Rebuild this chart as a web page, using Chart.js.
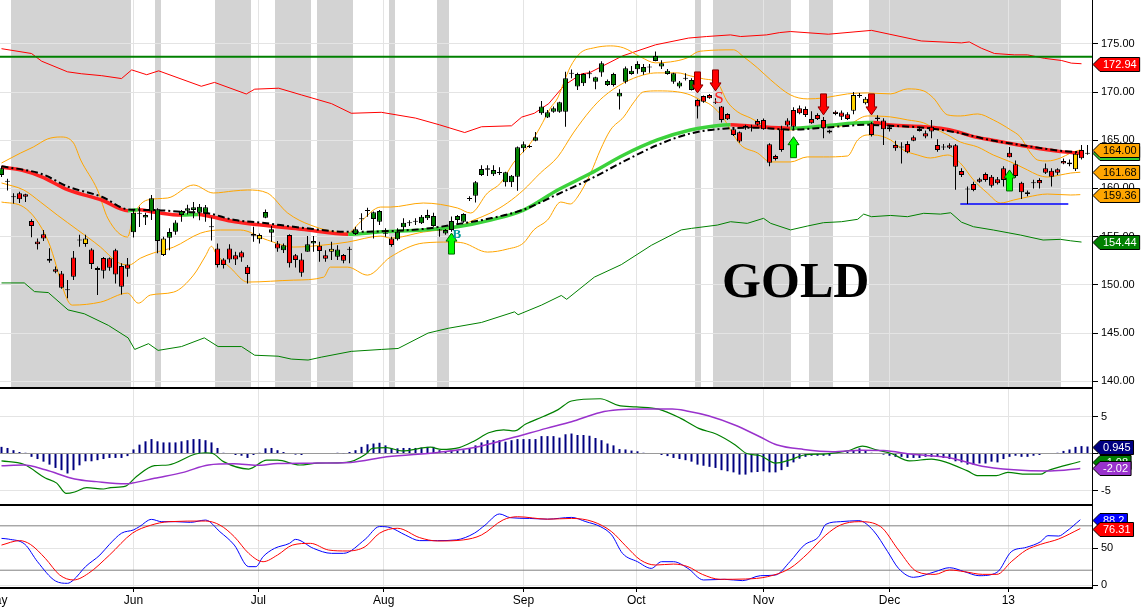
<!DOCTYPE html>
<html>
<head>
<meta charset="utf-8">
<title>GOLD</title>
<script src="https://cdn.jsdelivr.net/npm/chart.js@4.4.1/dist/chart.umd.min.js"></script>
<style>
  body { margin: 0; background: #fff; }
  #wrap { position: relative; width: 1142px; height: 616px; overflow: hidden; background: #fff; }
  #wrap canvas { position: absolute; left: 0; }
</style>
</head>
<body>
<div id="wrap">
  <canvas id="priceChart" width="1142" height="389" style="top:0"></canvas>
  <canvas id="macdChart" width="1142" height="118" style="top:388px"></canvas>
  <canvas id="stochChart" width="1142" height="111" style="top:505px"></canvas>
</div>
<script>
// ---- data ----
const monthBars = [-0.9, 22, 42.8, 63.7, 87, 105.8, 127, 148, 167.8];
const monthLabels = ['May', 'Jun', 'Jul', 'Aug', 'Sep', 'Oct', 'Nov', 'Dec', '13'];
const priceTicks = [140, 145, 150, 155, 160, 165, 170, 175];
const macdTicks = [-5, 0, 5];
const stochTicks = [0, 50];
const stochLevels = [20, 80];

const opens = [161.4,160.7,159.15,159.5,159.4,156.62,154.5,155.24,152.7,151.63,
151.19,149.5,152.85,154.7,154.82,153.68,151.74,152.78,152.75,153.6,
151.95,152.1,155.45,157.42,157.0,157.6,154.54,154.82,154.89,155.5,
157.24,157.7,157.76,157.48,157.42,156.03,153.78,152.64,153.78,153.06,
153.37,151.88,155.1,155.17,156.97,155.41,154.3,153.6,155.17,153.06,
152.64,153.43,154.3,154.05,153.06,153.74,152.92,153.1,153.7,155.27,
156.8,157.7,156.83,156.55,155.34,154.82,154.72,155.97,156.45,156.55,
156.38,156.9,156.1,155.69,155.34,155.69,156.72,156.55,158.9,159.25,
161.4,161.95,161.47,161.64,160.64,160.64,161.22,164.17,164.3,164.96,
167.8,167.35,167.97,167.97,167.97,171.9,170.57,170.92,171.88,171.08,
172.02,170.74,170.74,169.53,171.08,171.88,172.37,172.06,172.58,173.23,
172.64,171.88,171.08,170.57,171.37,170.22,169.18,169.6,169.7,168.94,
168.49,167.73,166.14,165.83,166.5,166.35,167.0,167.1,164.58,163.37,
166.14,167.04,168.15,168.32,168.25,167.2,167.63,167.1,166.0,167.97,
167.87,167.7,169.7,169.63,169.3,166.77,167.35,167.04,166.35,164.51,
164.27,164.62,165.31,166.17,165.72,166.41,164.51,164.27,164.48,164.48,
161.81,159.91,160.46,160.95,161.5,161.22,160.95,162.1,163.71,162.5,
160.6,159.6,160.6,160.88,162.1,161.84,161.98,162.85,162.7,163.6,
164.0,163.6];
const highs = [162.3,161.0,159.5,159.66,159.45,156.8,154.8,155.7,153.8,151.9,
151.45,150.5,153.5,155.2,155.2,153.8,151.9,152.9,152.85,153.74,
152.23,152.78,157.76,158.1,157.48,159.32,157.94,155.0,155.86,156.7,
157.76,158.3,158.6,158.4,158.28,157.0,154.3,152.75,154.2,153.43,
153.54,152.05,156.03,155.34,157.83,156.1,154.54,154.3,155.24,153.2,
153.27,155.06,155.06,154.47,153.6,154.47,154.1,153.2,153.95,156.03,
157.42,158.0,157.6,157.76,155.86,154.99,155.86,156.9,156.7,156.9,
157.24,157.8,157.48,155.8,155.8,157.1,157.24,157.42,159.2,160.78,
162.4,162.4,162.4,162.2,161.74,161.4,164.34,164.86,164.5,165.85,
169.07,168.15,168.5,169.0,172.1,172.33,172.0,171.95,172.2,171.6,
173.2,171.3,172.0,170.3,172.65,172.7,173.2,172.9,172.9,174.2,
173.3,172.4,172.0,171.16,171.96,171.44,169.25,169.65,169.8,169.36,
168.56,167.8,166.3,165.9,166.6,166.6,167.2,167.25,164.7,163.5,
166.5,167.28,168.43,168.6,168.5,168.0,167.8,167.4,166.1,168.1,
168.1,167.9,170.0,169.9,169.5,166.9,167.6,167.28,166.5,164.96,
164.8,164.9,165.5,166.4,166.0,167.1,165.1,164.6,164.7,164.6,
162.1,160.2,160.7,161.1,161.65,161.4,161.2,162.3,164.3,162.9,
160.7,159.8,160.9,161.05,162.6,162.1,162.1,163.1,163.0,163.8,
164.5,164.5];
const lows = [161.2,159.8,158.45,158.5,158.6,154.93,153.68,154.55,152.3,151.2,
149.6,148.6,150.5,153.95,153.95,151.64,148.94,150.67,151.46,150.15,
149.0,150.84,154.9,156.0,156.2,156.72,153.27,153.0,153.6,155.2,
156.55,157.3,156.9,156.7,156.55,154.6,151.8,151.7,152.3,152.05,
152.4,150.15,154.47,154.3,156.9,154.47,153.43,153.3,151.8,151.8,
150.84,153.43,153.43,152.4,152.4,152.57,152.57,152.23,152.23,155.17,
155.7,157.07,154.82,156.2,154.99,153.95,154.6,155.6,156.1,156.2,
156.3,156.72,156.03,155.0,155.2,155.5,156.2,156.45,158.7,158.55,
161.3,161.3,161.3,161.4,160.2,160.15,159.77,163.75,164.2,164.9,
167.64,167.3,167.85,167.85,166.4,171.44,170.22,170.64,171.44,170.3,
171.6,170.64,170.57,168.2,170.9,171.8,171.9,171.8,172.0,173.2,
172.4,171.8,170.85,170.4,171.2,170.15,167.25,168.9,169.3,168.77,
166.85,167.1,165.45,164.75,166.1,165.9,166.5,166.1,162.3,162.9,
163.8,166.41,166.07,167.7,167.4,166.7,167.1,165.2,165.7,167.6,
167.1,167.1,167.7,169.4,168.7,165.4,167.0,164.5,165.9,163.9,
162.6,163.65,164.9,165.9,165.2,165.2,163.8,164.0,164.1,159.86,
161.2,158.4,159.7,160.6,160.7,160.1,160.4,160.2,163.2,161.1,
158.9,159.2,160.0,160.0,161.5,160.2,161.4,162.5,162.3,161.8,
163.0,163.5];
const closes = [162.1,160.75,159.1,158.87,159.15,156.1,154.2,154.82,152.5,151.35,
149.7,149.45,150.84,154.6,154.23,152.16,151.53,151.46,151.77,151.08,
149.8,151.66,157.48,157.37,157.24,158.98,157.84,153.09,155.48,156.48,
157.66,157.95,158.04,158.1,158.04,155.98,152.05,152.05,152.64,152.64,
152.85,151.12,155.27,154.72,157.55,155.76,153.78,154.1,152.23,152.57,
151.26,154.2,154.54,153.5,152.7,153.43,153.68,152.5,153.65,155.76,
156.85,157.65,157.52,157.66,155.3,154.13,155.51,156.45,156.4,156.6,
157.07,157.24,157.14,155.65,155.69,156.62,157.14,157.35,158.95,160.64,
162.02,162.1,161.92,161.6,161.68,161.33,164.27,164.58,164.4,165.3,
168.5,167.91,168.32,168.94,171.44,171.95,171.88,171.88,171.85,171.54,
173.0,171.16,171.88,169.94,172.48,172.2,172.92,172.6,172.55,173.75,
173.0,172.2,171.96,170.98,171.4,171.26,168.49,169.0,169.36,168.9,
167.1,167.18,165.55,164.86,166.3,166.3,166.6,166.14,162.67,163.06,
164.0,166.52,166.41,167.8,167.63,166.77,167.2,166.24,165.8,167.73,
167.45,167.2,168.07,169.6,168.84,165.55,167.2,166.14,166.14,164.17,
164.24,163.75,164.96,165.97,165.38,165.9,163.99,164.24,164.23,162.26,
161.4,159.88,159.84,160.7,160.88,160.28,160.53,160.88,163.23,161.29,
159.6,159.42,160.55,160.53,161.64,161.22,161.64,162.6,162.5,161.98,
163.13,163.7];
// candle colour state: r = red, g = green, y = yellow, k = doji
const impulse = ['gkkrrrrrrr','rkryyrrrrr','rrgkgggygg','gggggkrrrr','rrgyggrgrr',
  'rggrrygrkg','kkggkrggkk','gggkggggkg','gggkgggggg','gggggkggkg','ggggggggkg',
  'ggggkgrrrk','rrrrrkrrrr','rrrrrrrrrr','rrykyrrrrr','krrrrrrkrr','rkrrrrrrrr',
  'rrkrrrrrry','rg'].join('');

// [bar, value] pairs
const redEnvelope = [[0,174.5],[5,174.0],[6.7,173.2],[11,172.1],[13.3,171.9],[16.7,171.7],[20,171.4],[21.7,172.3],[24.2,171.8],[26.2,172.2],[33.3,170.6],[35.5,171.0],[40.8,169.8],[42.2,170.3],[46.2,170.4],[50,169.7],[55,168.8],[58.3,167.8],[63.3,167.9],[69,167.3],[73,166.6],[77.2,165.8],[80,166.4],[85,166.5],[86.7,167.4],[88.8,167.8],[91.2,168.8],[93.8,170.7],[96.7,171.9],[98,172.0],[103.5,173.75],[109,174.9],[114.5,175.6],[117.5,175.76],[121.5,175.93],[123.2,175.76],[127.5,175.93],[129.7,176.17],[131.5,176.28],[137.8,176.0],[145,176.4],[153.3,175.3],[160,175.1],[161.3,175.2],[163.3,174.55],[165.5,174.0],[168.8,173.86],[171,173.86],[173.8,173.5],[176.7,173.27],[178.3,173.0],[180,172.94]];
const greenEnvelope = [[0,150.2],[3.8,150.2],[5.5,149.3],[7.8,149.2],[11.1,147.4],[13.8,147.0],[17.8,145.8],[21.1,144.5],[22.2,143.3],[24.5,143.9],[26.1,143.2],[30,143.6],[33.8,144.5],[36.1,143.6],[40,143.6],[42.2,142.7],[46.1,142.6],[48.3,142.3],[51.1,142.2],[53.3,142.5],[58.3,143.1],[63.3,143.3],[66.1,143.4],[71.1,145.0],[74.5,145.5],[80,146.1],[85.5,147.2],[86.1,146.9],[90,147.9],[93.3,148.9],[94.2,148.5],[98.8,150.8],[103.3,152.1],[108.3,154.1],[113.3,155.7],[115,155.86],[119.3,156.2],[121.5,156.55],[124.3,156.38],[127,156.9],[128.2,156.38],[131.5,155.7],[134.3,156.1],[137,156.45],[140,156.55],[142.7,156.8],[143.7,157.34],[145,157.07],[148.2,157.2],[151,157.07],[153.7,157.42],[156.5,157.34],[158.2,157.48],[160,156.5],[162,156.03],[165.3,155.69],[169.8,155.17],[173.6,154.65],[176.5,154.72],[178.2,154.57],[180,154.44]];
const bbUpper = [[0,162.64],[3.2,163.68],[5.3,164.3],[7.7,165.14],[9.8,165.34],[12,164.72],[13.2,162.95],[16,159.84],[17.7,156.93],[21,154.96],[22,157.14],[24.3,158.8],[27.7,159.01],[32,160.36],[35.3,159.53],[38.7,159.74],[41,159.84],[44.3,159.53],[47.7,157.45],[51.5,156.2],[57.7,155.37],[59.8,156.52],[63.2,158.07],[64.8,158.07],[70.3,158.49],[76,157.97],[78.2,157.45],[81,159.53],[83.2,160.57],[85.3,162.64],[88.2,164.72],[89.8,166.38],[91.5,168.35],[92.7,169.39],[93.7,170.95],[94.8,172.61],[96.5,174.07],[98.7,174.58],[101.5,174.79],[103.7,174.58],[106.5,173.65],[109,173.03],[111.5,173.13],[114.3,173.55],[116,174.17],[117,174.27],[122,174.38],[123.7,173.65],[126,172.51],[128.2,171.26],[131.5,169.7],[134.3,169.29],[137,169.39],[141,169.81],[144.3,169.91],[148.2,169.81],[151,170.33],[153.7,170.12],[155.3,169.39],[157.7,167.63],[159.8,167.52],[162.7,167.73],[165.3,167.11],[168.2,166.07],[169.8,165.34],[171.5,163.68],[172.7,162.95],[174.3,162.85],[176.5,163.16],[178.2,163.68],[179.8,164.0]];
const bbMiddle = [[0,160.57],[3.7,159.84],[6.5,158.59],[9.3,157.24],[12.7,155.69],[16.5,153.92],[19.3,152.36],[21.2,152.05],[23.2,152.78],[25.3,153.3],[28.7,153.92],[33.2,155.37],[36.5,155.69],[39.8,155.69],[44.3,154.65],[48.7,153.92],[53.7,154.13],[57.7,154.44],[63.2,155.06],[64.8,154.85],[70.3,155.48],[76,156.0],[78.7,156.72],[81.5,157.45],[84.3,158.49],[87,159.84],[89.8,161.6],[92.7,163.27],[95.3,165.76],[98.2,168.15],[100.3,169.5],[103.7,170.95],[107,171.78],[109.3,171.99],[112.7,171.99],[114.8,171.68],[117,171.37],[119.3,170.95],[121,168.98],[122.7,167.94],[124.8,167.32],[127.7,166.38],[131.5,166.07],[134.3,166.28],[137,166.38],[141,166.59],[144.3,167.52],[148.2,167.42],[151,167.11],[153.7,166.8],[155.3,166.28],[157.7,165.55],[159.8,164.82],[162.7,164.3],[165.3,163.47],[168.2,162.75],[171,161.92],[172.7,161.4],[174.3,161.19],[176.5,161.4],[178.2,161.6],[179.8,161.68]];
const bbLower = [[0,158.59],[3.7,158.07],[7.7,154.65],[11,148.42],[11.8,147.9],[16.5,148.21],[21,149.14],[22.8,148.1],[24.8,148.94],[28.7,149.25],[32,151.01],[34,153.0],[35,154.0],[35.8,153.2],[38.2,151.74],[41,150.29],[48.7,150.49],[53.7,150.8],[54.8,151.84],[57.7,151.84],[61,151.01],[64.8,152.88],[70.3,154.34],[74.8,154.44],[77,154.34],[81,153.4],[84.3,153.71],[87,154.34],[88.7,155.69],[91,156.72],[93.2,158.59],[94.8,158.39],[96,159.11],[98.2,161.6],[99.8,163.99],[101.5,166.07],[103.7,167.42],[105.3,168.87],[107,170.02],[109.3,170.12],[112.7,170.02],[114.8,169.7],[116.5,169.18],[118.2,168.67],[120.3,167.32],[121.5,166.07],[123.2,164.51],[126,163.68],[128.2,162.75],[131.5,162.75],[134.3,163.27],[137,163.27],[141,163.37],[142.7,165.03],[144.3,165.55],[145.3,165.55],[148.2,165.03],[150.3,163.99],[152.7,163.47],[154.8,163.16],[157.7,163.47],[159.8,162.64],[162,160.88],[164.3,159.53],[166.5,158.49],[168.7,158.8],[171,159.11],[174.3,159.42],[178.2,159.32],[179.8,159.36]];
const emaLine = [[0,162.2],[3.3,161.9],[6.7,161.2],[11.1,159.85],[16.7,158.8],[21.1,157.7],[22.8,157.78],[25.6,157.52],[30,157.24],[32.8,157.3],[34.4,157.14],[38.9,156.55],[43.3,156.2],[50,155.76],[57.8,155.24],[63.3,155.5],[70.3,155.7],[76,156.03],[81.5,156.72],[87,157.76],[92.7,159.84],[98.2,161.57],[103.7,163.47],[109.3,165.03],[114.8,166.07],[120.3,166.59],[121.5,166.62],[124.8,166.48],[131.5,166.24],[137,166.48],[144.3,166.83],[145.3,166.83],[148.2,166.59],[153.7,166.41],[156.5,166.24],[159.3,165.9],[162,165.38],[165,165.03],[171,164.34],[176.5,163.82],[179.8,163.65]];
const smaLine = [[0,162.3],[6.7,161.5],[11.1,160.18],[16.7,159.14],[21.1,157.83],[25.6,157.76],[30,157.58],[34.4,157.42],[38.9,156.72],[43.3,156.45],[50,155.93],[57.8,155.5],[63.3,155.55],[70.3,155.8],[76,156.3],[81.5,156.9],[87,157.8],[92.7,159.4],[98.2,161.0],[103.7,162.8],[109.3,164.5],[114.8,165.7],[120.3,166.2],[126,166.3],[131.5,166.1],[137,166.3],[144.3,166.6],[148.2,166.5],[153.7,166.3],[159.3,165.8],[165,165.0],[171,164.4],[176.5,163.9],[179.8,163.75]];
const resistanceLevel = 173.65;
const supportLevel = 158.39, supportStart = 159.8, supportEnd = 177.8;
const shadeBands = [[2,21],[26,26],[36,41],[46,51],[53,58],[65,65],[73,74],[116,116],[119,131],[135,138],[145,176]];
const buySignals = [[75,155.37],[132,165.37],[168,161.92]];
const sellSignals = [[116,169.91],[119,170.12],[137,167.63],[145,167.63]];
const signalLetters = [[75.9,155.17,'B'],[119.6,169.3,'S']];
const titleText = 'GOLD', titleAt = [120.1, 148.74];

const macdLine = [[0,-1.0],[3.7,-1.46],[7.3,-3.3],[9.2,-4.0],[10.8,-5.4],[12.2,-5.2],[14.2,-4.6],[17,-4.8],[18.2,-4.6],[20.7,-4.4],[22.5,-3.1],[25.5,-1.65],[27.8,-1.55],[32.2,-0.1],[34,0.1],[35.2,0],[37,-1.1],[41.2,-2.1],[44.2,-0.9],[46,-0.9],[49.7,-1.55],[52.7,-1.3],[57.5,-1.2],[60.7,-0.1],[61.8,0.7],[64.2,0.8],[66.7,0.35],[71.5,0.85],[73.3,0.55],[76.3,0.8],[78.8,1.7],[81.2,2.8],[83.7,3.2],[85.5,3.05],[87.3,3.95],[90.3,5.0],[92.7,5.9],[95,7.1],[99.8,7.4],[102.8,6.5],[105.8,6.3],[109.5,6.0],[113.2,4.75],[116.2,3.4],[119.2,2.6],[122.3,1.15],[124.2,0],[126.5,-0.3],[129,-1.3],[131.3,-0.9],[133.8,-0.2],[137.5,-0.05],[141,0.35],[143.5,1.0],[145.8,0.5],[148.3,0],[151.3,-1.0],[155,-0.75],[157.5,-1.2],[161,-2.35],[162.8,-3.0],[165.8,-3.0],[167.7,-2.55],[170.8,-2.8],[173.2,-2.8],[174.3,-2.35],[179.8,-1.08]];
const signalLine = [[0,-1.65],[3.7,-1.55],[7.3,-2.2],[12.2,-3.45],[15.8,-3.8],[20.7,-4.1],[21.8,-4.0],[25.5,-3.35],[30.3,-2.55],[34.5,-1.55],[38.8,-1.4],[42.5,-1.6],[46,-1.35],[51.5,-1.3],[58.2,-1.2],[64.2,-0.45],[72.7,0.15],[78.8,0.8],[84.8,2.05],[90.8,3.4],[95,4.3],[99.8,5.55],[102.8,5.9],[107,6.0],[111.8,6.0],[114.2,5.75],[117.8,5.1],[122.2,3.85],[126.3,2.3],[129.3,1.15],[133.7,0.55],[138.5,0.25],[143.3,0.45],[147,0.4],[151.8,-0.1],[157.8,-0.55],[164,-1.8],[170.7,-2.3],[174.8,-2.35],[179.8,-2.02]];
const macdHist = [0.9,0.75,0.45,0.2,0.1,-0.45,-0.75,-1.1,-1.5,-1.95,
-2.25,-2.7,-2.25,-1.6,-1.05,-1.05,-0.9,-0.75,-0.6,-0.6,
-0.6,-0.35,0.55,1.2,1.65,1.95,1.65,1.5,1.5,1.5,
1.65,1.8,1.95,1.95,1.8,1.5,0.75,0.1,0,-0.2,
-0.3,-0.6,-0.2,0.1,0.7,0.75,0.45,0.2,0,-0.15,
-0.2,0,0,0,0,0,0.1,0.05,0.2,0.45,
0.9,1.25,1.35,1.45,1.1,0.75,0.7,0.75,0.75,0.75,
0.8,0.9,0.9,0.45,0.3,0.35,0.4,0.45,0.7,1.1,
1.5,1.8,1.8,1.8,1.6,1.8,1.95,1.95,1.95,1.95,
2.35,2.35,2.35,2.15,2.6,2.7,2.5,2.5,2.4,2.1,
1.8,1.35,1.1,0.6,0.55,0.4,0.3,0.1,0,0,
-0.2,-0.35,-0.6,-0.75,-0.9,-1.1,-1.5,-1.65,-1.8,-1.95,
-2.25,-2.4,-2.55,-2.85,-2.85,-2.55,-2.5,-2.4,-2.55,-2.55,
-2.25,-1.8,-1.2,-0.7,-0.45,-0.3,-0.3,-0.3,-0.3,0,
0,0.2,0.45,0.7,0.45,0.1,0,-0.15,-0.3,-0.45,
-0.45,-0.6,-0.6,-0.6,-0.45,-0.45,-0.45,-0.6,-0.75,-1.05,
-1.2,-1.5,-1.5,-1.35,-1.35,-1.1,-1.2,-0.75,-0.45,-0.3,
-0.45,-0.45,-0.3,-0.2,0,0,0.1,0.35,0.55,0.9,
1.0,0.945];

const stochK = [[0,63],[1.2,62],[3.9,55],[6,31.5],[9,5.4],[11,2.3],[12,6.8],[14,24.8],[16.4,40.5],[18,55],[20,70],[22,74.5],[23,79],[25,88.7],[26.7,85.6],[29,85.6],[31.5,84.7],[34,87.8],[36.4,72],[38.8,54],[41.2,24.8],[42.4,24.8],[43.6,38.3],[45.5,49.5],[48,56.3],[49,61.7],[52,49.5],[55,42.8],[57,42.8],[60.6,61.7],[63,79],[64.8,77.6],[67.3,67.6],[69.7,60],[72.7,60],[75.8,61],[78.8,70],[80.6,81],[83,96],[84.8,91],[88,90],[91,89],[95,91.4],[97.4,85.6],[99.8,79],[101.7,67.6],[103.5,42.8],[106,31.5],[108.3,22.5],[110,31.5],[112,31.5],[114.4,22.5],[117,6.8],[120.5,7.7],[123.5,5.9],[126.5,12.6],[129,13.5],[131.4,31.5],[133.8,54],[136.2,65.3],[137.4,82],[139.8,85.6],[142.9,87],[145.3,73.6],[147.7,45],[149.5,22.5],[152,10.4],[155.6,18],[158,23.4],[160.5,18],[162.9,12.6],[165.9,17],[168.3,45],[170.8,50.9],[173.2,58.6],[174.4,66.7],[176.2,66.2],[177.4,72],[179.8,88.2]];
const stochD = [[0,54],[3,60],[4.8,55],[7.3,36],[9.7,13.5],[12,6.8],[14.5,15.8],[18,40.5],[21.8,70],[24.8,80.6],[27.9,85.6],[34,86.5],[36.4,81],[38.8,65.3],[41.2,42.8],[43.6,31.5],[46,40.5],[48.5,54],[51.5,56.3],[54.5,47.3],[57.6,46],[60.6,51.8],[63,70],[66,76.7],[69.7,64],[72.7,59.5],[77,61],[80,67.6],[83.6,88],[86,92.3],[91,89],[95,90],[98.6,85.6],[101.7,72],[104,53.1],[106.5,33.8],[109,27],[112,28.3],[114.4,24.8],[116.8,14.4],[119.8,7.7],[124,8.1],[127.7,11.3],[131.4,22.5],[134.4,42.8],[137.4,67.6],[139.8,81],[142.9,85.6],[146.5,79],[149.5,47.3],[152.6,18],[155.6,14.4],[158,20.3],[160.5,18],[163.5,14.4],[165.9,14.4],[168.3,31.5],[170.8,47.3],[173.2,55],[176.2,62.2],[179.8,76.31]];

// ---- drawing ----
const fontSans = "'Liberation Sans', Arial, sans-serif";
const xMin = -0.25, xMax = 181.75;
const gridGray = '#e4e4e4';
const bodyColors = { r: '#ff0000', g: '#008000', y: '#ffd200', k: '#000000' };
const last = a => a[a.length - 1][1];

function line(points, color, width, extra) {
  return Object.assign({
    type: 'line',
    data: points.map(p => ({ x: p[0], y: p[1] })),
    borderColor: color,
    borderWidth: width,
    pointRadius: 0,
    pointHitRadius: 0,
    fill: false,
    tension: 0
  }, extra || {});
}

function xAxis(withLabels) {
  return {
    type: 'linear', min: xMin, max: xMax, offset: false,
    afterBuildTicks: s => { s.ticks = monthBars.map(v => ({ value: v })); },
    afterFit: s => { s.height = withLabels ? 28 : 0; s.paddingLeft = 0; s.paddingRight = 0; },
    grid: { color: gridGray, offset: false, drawTicks: withLabels, tickLength: 4, tickColor: '#000' },
    border: { display: true, color: '#000', width: 2 },
    ticks: {
      display: withLabels, autoSkip: false, maxRotation: 0, minRotation: 0, padding: 1,
      color: '#000', font: { family: fontSans, size: 12 },
      callback: (v, i) => monthLabels[i]
    }
  };
}

function yAxis(min, max, ticks, fmt, gridColor) {
  return {
    position: 'right', min, max,
    afterBuildTicks: s => { s.ticks = ticks.map(v => ({ value: v })); },
    afterFit: s => { s.width = 50; s.paddingTop = 0; s.paddingBottom = 0; },
    grid: { color: gridColor, tickLength: 6, tickColor: '#000', drawTicks: true },
    border: { display: true, color: '#000', width: 1 },
    ticks: { autoSkip: false, padding: 3, color: '#000', font: { family: fontSans, size: 11 }, callback: fmt }
  };
}

function tagPlugin(tags) {
  return {
    id: 'tags',
    afterDraw(chart) {
      const ctx = chart.ctx, ys = chart.scales.y;
      const x0 = chart.chartArea.right + 1, tip = 7, h = 14;
      ctx.save();
      ctx.font = '11px ' + fontSans;
      ctx.textBaseline = 'middle';
      ctx.textAlign = 'left';
      tags.forEach(t => {
        const text = t.value.toFixed(t.digits);
        const y = Math.round(ys.getPixelForValue(t.value)) + 0.5;
        const w = ctx.measureText(text).width + 6;
        ctx.beginPath();
        ctx.moveTo(x0, y);
        ctx.lineTo(x0 + tip, y - h / 2);
        ctx.lineTo(x0 + tip + w, y - h / 2);
        ctx.lineTo(x0 + tip + w, y + h / 2);
        ctx.lineTo(x0 + tip, y + h / 2);
        ctx.closePath();
        ctx.fillStyle = t.bg;
        ctx.fill();
        ctx.strokeStyle = '#000';
        ctx.lineWidth = 1;
        ctx.stroke();
        ctx.fillStyle = t.fg;
        ctx.fillText(text, x0 + tip + 3, y + 0.5);
      });
      ctx.restore();
    }
  };
}

function drawArrow(ctx, x, yTip, d, fill, stroke) {
  // d = 1: pointing up (body below tip), d = -1: pointing down
  const len = 21, headLen = 8, headHalf = 5.5, shaftHalf = 3;
  ctx.beginPath();
  ctx.moveTo(x, yTip);
  ctx.lineTo(x + headHalf, yTip + d * headLen);
  ctx.lineTo(x + shaftHalf, yTip + d * headLen);
  ctx.lineTo(x + shaftHalf, yTip + d * len);
  ctx.lineTo(x - shaftHalf, yTip + d * len);
  ctx.lineTo(x - shaftHalf, yTip + d * headLen);
  ctx.lineTo(x - headHalf, yTip + d * headLen);
  ctx.closePath();
  ctx.fillStyle = fill;
  ctx.fill();
  ctx.strokeStyle = stroke;
  ctx.lineWidth = 1;
  ctx.stroke();
}

const mainOverlay = {
  id: 'mainOverlay',
  beforeDraw(chart) {
    const { ctx, chartArea: a, scales: { x } } = chart;
    ctx.save();
    ctx.fillStyle = '#d3d3d3';
    shadeBands.forEach(([s, e]) => {
      const x0 = Math.round(x.getPixelForValue(s - 0.5));
      const x1 = Math.round(x.getPixelForValue(e + 0.5));
      ctx.fillRect(x0, a.top, x1 - x0, a.bottom - a.top);
    });
    ctx.restore();
  },
  afterDatasetsDraw(chart) {
    const { ctx, scales: { x, y } } = chart;
    ctx.save();
    ctx.font = 'bold 50px "Liberation Serif", "Times New Roman", serif';
    ctx.fillStyle = '#000';
    ctx.textAlign = 'left';
    ctx.textBaseline = 'alphabetic';
    ctx.fillText(titleText, x.getPixelForValue(titleAt[0]), y.getPixelForValue(titleAt[1]));

    buySignals.forEach(([b, v]) => drawArrow(ctx, x.getPixelForValue(b), y.getPixelForValue(v), 1, '#00ff00', '#006400'));
    sellSignals.forEach(([b, v]) => drawArrow(ctx, x.getPixelForValue(b), y.getPixelForValue(v), -1, '#ff0000', '#8b0000'));

    ctx.textAlign = 'center';
    ctx.textBaseline = 'middle';
    signalLetters.forEach(([b, v, s]) => {
      ctx.font = s === 'B' ? 'bold 13px "Liberation Serif", serif' : '17px "Liberation Serif", serif';
      ctx.fillStyle = s === 'B' ? '#009a9a' : '#ff2020';
      ctx.fillText(s, x.getPixelForValue(b), y.getPixelForValue(v));
    });
    ctx.restore();
  }
};

const baseOptions = {
  responsive: false,
  animation: false,
  events: [],
  devicePixelRatio: 1,
  plugins: { legend: { display: false }, tooltip: { enabled: false } }
};

const candleIdx = opens.map((_, i) => i);
const candleBodies = {
  type: 'bar',
  data: candleIdx.map(i => ({ x: i, y: [opens[i], closes[i]] })),
  backgroundColor: candleIdx.map(i => bodyColors[impulse[i]]),
  borderColor: '#000', borderWidth: 1, borderSkipped: false, inflateAmount: 0,
  barThickness: 5, minBarLength: 1, grouped: false, order: 0
};
const candleWicks = {
  type: 'bar',
  data: candleIdx.map(i => ({ x: i, y: [lows[i], highs[i]] })),
  backgroundColor: '#000', borderWidth: 0, inflateAmount: 0,
  barThickness: 1, grouped: false, order: 1
};

new Chart(document.getElementById('priceChart'), {
  type: 'line',
  data: {
    datasets: [
      candleBodies,
      candleWicks,
      line(smaLine, '#000', 2, { borderDash: [7, 3, 2, 3], order: 2, cubicInterpolationMode: 'monotone' }),
      line(emaLine, '#ff2020', 3.5, {
        order: 3, cubicInterpolationMode: 'monotone',
        segment: { borderColor: c => (c.p1.parsed.y >= c.p0.parsed.y ? '#3cd23c' : '#ff2020') }
      }),
      line([[xMin, resistanceLevel], [xMax, resistanceLevel]], '#008000', 2, { order: 4 }),
      line([[supportStart, supportLevel], [supportEnd, supportLevel]], '#0000ff', 1.5, { order: 4 }),
      line(bbUpper, '#ffa500', 1, { order: 5, cubicInterpolationMode: 'monotone' }),
      line(bbMiddle, '#ffa500', 1, { order: 5, cubicInterpolationMode: 'monotone' }),
      line(bbLower, '#ffa500', 1, { order: 5, cubicInterpolationMode: 'monotone' }),
      line(redEnvelope, '#ff0000', 1, { order: 6 }),
      line(greenEnvelope, '#008000', 1, { order: 6 })
    ]
  },
  options: Object.assign({}, baseOptions, {
    layout: { padding: { left: 0, right: 0, top: 0, bottom: 1 } },
    scales: {
      x: xAxis(false),
      y: yAxis(139.3, 179.55, priceTicks, v => v.toFixed(2), gridGray)
    }
  }),
  plugins: [mainOverlay, tagPlugin([
    { value: closes[closes.length - 1], digits: 2, bg: '#33cc33', fg: '#fff' },
    { value: last(redEnvelope), digits: 2, bg: '#ff0000', fg: '#fff' },
    { value: last(bbUpper), digits: 2, bg: '#ffa500', fg: '#000' },
    { value: last(bbMiddle), digits: 2, bg: '#ffa500', fg: '#000' },
    { value: last(bbLower), digits: 2, bg: '#ffa500', fg: '#000' },
    { value: last(greenEnvelope), digits: 2, bg: '#008000', fg: '#fff' }
  ])]
});

new Chart(document.getElementById('macdChart'), {
  type: 'line',
  data: {
    datasets: [
      {
        type: 'bar',
        data: macdHist.map((v, i) => ({ x: i, y: v })),
        backgroundColor: '#000080', borderWidth: 0, inflateAmount: 0,
        barThickness: 2, grouped: false, order: 3
      },
      line(macdLine, '#008000', 1.2, { order: 2, cubicInterpolationMode: 'monotone' }),
      line(signalLine, '#9932cc', 1.5, { order: 1, cubicInterpolationMode: 'monotone' })
    ]
  },
  options: Object.assign({}, baseOptions, {
    layout: { padding: { left: 0, right: 0, top: 1, bottom: 1 } },
    scales: {
      x: xAxis(false),
      y: yAxis(-6.96, 8.72, macdTicks, v => String(v), c => (c.tick && c.tick.value === 0 ? '#9a9a9a' : gridGray))
    }
  }),
  plugins: [tagPlugin([
    { value: macdHist[macdHist.length - 1], digits: 3, bg: '#000080', fg: '#fff' },
    { value: last(macdLine), digits: 2, bg: '#008000', fg: '#fff' },
    { value: last(signalLine), digits: 2, bg: '#9932cc', fg: '#fff' }
  ])]
});

new Chart(document.getElementById('stochChart'), {
  type: 'line',
  data: {
    datasets: [
      ...stochLevels.map(l => line([[xMin, l], [xMax, l]], '#808080', 1, { order: 3 })),
      line(stochK, '#0000ff', 1, { order: 2, cubicInterpolationMode: 'monotone' }),
      line(stochD, '#ff0000', 1, { order: 1, cubicInterpolationMode: 'monotone' })
    ]
  },
  options: Object.assign({}, baseOptions, {
    layout: { padding: { left: 0, right: 0, top: 1, bottom: 0 } },
    scales: {
      x: xAxis(true),
      y: yAxis(-4.05, 106.8, stochTicks, v => String(v), gridGray)
    }
  }),
  plugins: [tagPlugin([
    { value: last(stochK), digits: 1, bg: '#0000ff', fg: '#fff' },
    { value: last(stochD), digits: 2, bg: '#ff0000', fg: '#fff' }
  ])]
});
</script>
</body>
</html>
